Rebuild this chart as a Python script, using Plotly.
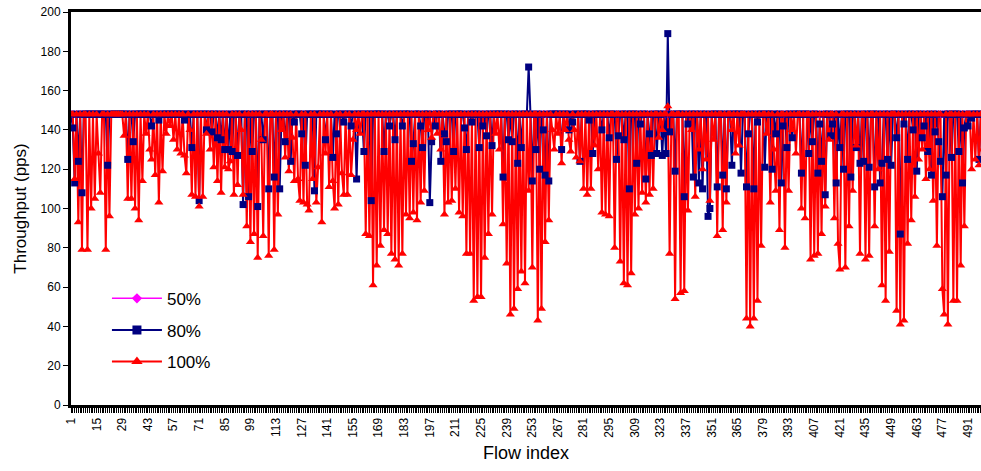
import plotly.graph_objects as go

flows = list(range(1, 501))

tput_50 = [
148,148,148,148,148,148,148,148,148,148,148,148,148,148,148,148,148,148,148,148,148,148,148,148,148,
148,148,148,148,148,148,148,148,148,148,148,148,148,148,148,148,148,148,148,148,148,148,148,148,148,
148,148,148,148,148,148,148,148,148,148,148,148,148,148,148,148,148,148,148,148,148,148,148,148,148,
148,148,148,148,148,148,148,148,148,148,148,148,148,148,148,148,148,148,148,148,148,148,148,148,148,
148,148,148,148,148,148,148,148,148,148,148,148,148,148,148,148,148,148,148,148,148,148,148,148,148,
148,148,148,148,148,148,148,148,148,148,148,148,148,148,148,148,148,148,148,148,148,148,148,148,148,
148,148,148,148,148,148,148,148,148,148,148,148,148,148,148,148,148,148,148,148,148,148,148,148,148,
148,148,148,148,148,148,148,148,148,148,148,148,148,148,148,148,148,148,148,148,148,148,148,148,148,
148,148,148,148,148,148,148,148,148,148,148,148,148,148,148,148,148,148,148,148,148,148,148,148,148,
148,148,148,148,148,148,148,148,148,148,148,148,148,148,148,148,148,148,148,148,148,148,148,148,148,
148,148,148,148,148,148,148,148,148,148,148,148,148,148,148,148,148,148,148,148,148,148,148,148,148,
148,148,148,148,148,148,148,148,148,148,148,148,148,148,148,148,148,148,148,148,148,148,148,148,148,
148,148,148,148,148,148,148,148,148,148,148,148,148,148,148,148,148,148,148,148,148,148,148,148,148,
148,148,148,148,148,148,148,148,148,148,148,148,148,148,148,148,148,148,148,148,148,148,148,148,148,
148,148,148,148,148,148,148,148,148,148,148,148,148,148,148,148,148,148,148,148,148,148,148,148,148,
148,148,148,148,148,148,148,148,148,148,148,148,148,148,148,148,148,148,148,148,148,148,148,148,148,
148,148,148,148,148,148,148,148,148,148,148,148,148,148,148,148,148,148,148,148,148,148,148,148,148,
148,148,148,148,148,148,148,148,148,148,148,148,148,148,148,148,148,148,148,148,148,148,148,148,148,
148,148,148,148,148,148,148,148,148,148,148,148,148,148,148,148,148,148,148,148,148,148,148,148,148,
148,148,148,148,148,148,148,148,148,148,148,148,148,148,148,148,148,148,148,148,148,148,148,148,148,
]

tput_80 = [
148,141,113,148,124,148,108,148,148,148,
148,148,148,148,148,148,148,148,148,148,
122,148,148,148,148,148,148,148,148,148,
148,125,148,148,134,148,148,148,148,148,
148,148,148,148,142,148,148,148,145,148,
148,148,148,148,148,148,148,148,148,148,
148,148,145,148,148,148,131,148,148,148,
104,148,148,148,140,148,148,139,148,148,
136,148,135,148,130,148,130,148,129,148,
148,127,148,148,102,148,148,106,148,129,
148,148,101,148,148,135,148,148,110,148,
148,116,148,148,110,148,148,134,148,148,
124,148,144,148,148,148,138,148,122,148,
148,148,148,109,148,148,148,148,148,135,
148,148,148,126,148,138,148,148,148,144,
148,148,148,142,148,148,115,148,148,148,
129,148,148,148,104,148,148,148,148,148,
148,129,148,148,142,148,148,135,148,148,
148,142,148,148,148,148,124,133,148,148,
148,142,131,148,148,148,103,134,148,142,
148,148,124,148,138,134,148,148,148,129,
148,148,148,148,148,141,130,148,148,144,
148,148,148,131,148,142,148,137,148,148,
132,148,148,148,148,148,116,148,148,135,
148,134,148,148,123,148,131,148,148,148,
172,148,114,148,130,148,120,148,140,117,
148,114,148,148,148,148,148,148,130,148,
148,148,140,148,144,148,148,148,124,148,
148,148,148,145,148,128,148,148,148,148,
140,148,148,148,136,148,148,148,125,137,
148,148,135,148,148,110,148,148,148,123,
148,143,148,148,115,148,138,127,148,148,
128,148,148,127,148,128,189,139,148,148,
119,148,148,148,148,106,148,143,148,148,
116,148,148,113,148,110,148,148,96,100,
148,148,148,111,148,148,117,148,110,148,
148,122,148,148,148,148,118,148,148,111,
138,148,148,110,148,144,148,148,148,121,
148,148,148,120,148,138,148,148,113,142,
148,131,148,148,136,148,148,148,148,118,
148,148,148,128,148,134,148,148,118,143,
124,148,107,148,148,137,143,148,113,148,
131,148,120,148,148,148,116,148,148,131,
148,123,148,124,148,148,121,148,148,111,
148,148,113,123,148,148,125,148,122,148,
148,136,148,87,148,143,148,125,148,148,
140,148,119,148,148,136,142,148,129,148,
117,148,139,148,134,124,106,148,117,148,
148,126,148,148,148,129,148,113,141,148,
142,148,146,148,148,148,125,148,148,124,
]

tput_100 = [
148,148,115,148,93,148,79,148,148,79,
148,100,148,105,148,128,108,148,148,79,
148,96,148,148,148,148,148,148,148,137,
148,105,148,105,148,100,148,94,148,114,
148,138,148,130,125,148,117,148,103,148,
119,148,138,148,142,148,135,148,130,148,
128,148,127,118,148,140,107,148,106,148,
101,148,106,148,138,148,130,148,121,148,
114,148,108,148,121,148,120,124,148,107,
148,112,148,140,107,148,91,148,83,148,
87,148,75,148,135,86,148,148,76,148,
148,79,148,97,148,140,148,126,148,119,
148,136,114,148,115,104,148,103,148,102,
99,148,115,148,103,121,148,93,148,128,
148,111,148,114,100,148,102,148,118,107,
148,107,148,117,135,148,140,148,138,148,
148,87,148,86,148,61,148,71,148,81,
148,89,148,87,148,77,148,74,148,71,
148,77,148,97,148,95,148,98,148,94,
148,103,148,109,148,140,148,136,148,148,
138,148,130,148,97,148,103,148,104,148,
110,148,98,148,96,148,77,148,77,148,
53,148,55,148,55,148,75,148,87,148,
97,148,138,148,130,148,92,148,72,148,
46,148,49,148,59,148,68,148,62,148,
109,148,70,148,148,43,148,49,148,83,
148,94,148,140,130,148,138,148,123,148,
140,148,135,129,148,140,126,148,124,148,
110,148,107,148,110,148,132,148,120,148,
98,148,97,148,96,148,148,80,148,148,
73,148,62,148,61,148,67,148,97,148,
100,148,108,148,103,148,107,148,110,148,
148,136,148,140,148,148,152,77,148,148,
54,148,148,57,148,58,148,99,148,140,
148,106,148,130,148,120,148,125,148,104,
148,135,148,86,148,148,89,148,103,148,
148,140,148,128,148,132,148,148,148,44,
148,40,148,44,148,53,148,81,148,148,
138,148,103,148,130,109,148,89,148,148,
80,148,109,148,140,148,128,148,148,100,
148,95,148,148,74,148,76,148,77,148,
87,148,101,148,135,148,148,95,148,82,
69,148,148,70,148,91,148,109,148,132,
148,77,148,148,74,148,76,148,148,91,
148,120,148,61,148,53,148,78,148,148,
148,48,148,41,148,43,148,82,148,94,
148,106,148,125,148,130,148,115,148,120,
148,104,148,81,148,148,59,46,148,41,
148,148,53,148,53,148,71,148,91,148,
148,148,120,148,125,148,122,148,130,148,
]

series_names = ["50%", "80%", "100%"]
series_data = [tput_50, tput_80, tput_100]
x_tickvals = list(range(1, 492, 14))
y_tickvals = list(range(0, 201, 20))

colors = ["#FF00FF", "#000080", "#FF0000"]
symbols = ["diamond", "square", "triangle-up"]
msizes = [6, 7, 8]
lwidths = [1.5, 2, 2]

FONT = "Liberation Sans, Arial, sans-serif"

fig = go.Figure()
# lines first
for name, ys, c, w in zip(series_names, series_data, colors, lwidths):
    fig.add_trace(go.Scatter(x=flows, y=ys, mode="lines", line=dict(color=c, width=w),
                             showlegend=False, hoverinfo="skip"))
# markers on top
for name, ys, c, s, ms in zip(series_names, series_data, colors, symbols, msizes):
    fig.add_trace(go.Scatter(x=flows, y=ys, mode="markers",
                             marker=dict(color=c, symbol=s, size=ms, line=dict(width=0)),
                             showlegend=False, hoverinfo="skip"))
# legend entries
for name, c, s, ms, w in zip(series_names, colors, symbols, msizes, lwidths):
    fig.add_trace(go.Scatter(x=[None], y=[None], mode="lines+markers", name=name,
                             legendgroup=name,
                             line=dict(color=c, width=w),
                             marker=dict(color=c, symbol=s, size=ms + 2)))

fig.update_layout(
    width=981, height=471,
    margin=dict(l=71, r=0, t=12, b=66),
    paper_bgcolor="white", plot_bgcolor="white",
    font=dict(family=FONT, color="black"),
    showlegend=True,
    legend=dict(x=0.0395, y=0.316, xanchor="left", yanchor="top",
                bgcolor="rgba(0,0,0,0)", font=dict(size=17, family=FONT),
                traceorder="grouped", tracegroupgap=6.5, itemwidth=50),
    xaxis=dict(
        range=[1, 498.1], tickmode="array", tickvals=x_tickvals,
        ticktext=[str(v) for v in x_tickvals], tickangle=-90,
        tickfont=dict(size=12, family=FONT),
        showgrid=False, zeroline=False,
        showline=True, linecolor="black", linewidth=3, mirror=True,
        ticks="outside", ticklen=5, tickcolor="black",
        minor=dict(dtick=1, tick0=1, ticks="outside", ticklen=5, tickcolor="black", tickwidth=1, showgrid=False),
        title=dict(text="Flow index", font=dict(size=18, family=FONT), standoff=10),
    ),
    yaxis=dict(
        range=[0, 200], tickmode="array", tickvals=y_tickvals,
        tickfont=dict(size=12, family=FONT),
        showgrid=False, zeroline=False,
        showline=True, linecolor="black", linewidth=3,
        ticks="outside", ticklen=5, tickcolor="black",
        title=dict(text="Throughput (pps)", font=dict(size=17, family=FONT), standoff=10),
    ),
)

fig.write_html("out.html")
